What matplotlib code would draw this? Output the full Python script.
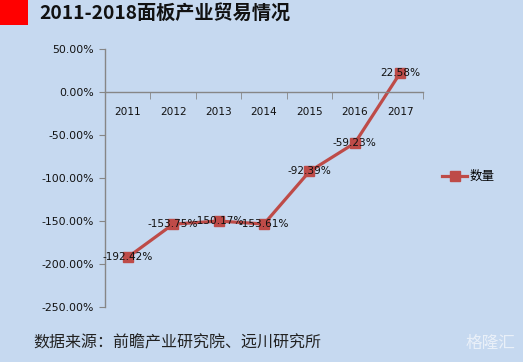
import matplotlib.pyplot as plt
from matplotlib.patches import Rectangle
from matplotlib.ticker import FixedLocator, FuncFormatter

plt.rcParams['font.family'] = ['Noto Sans CJK SC', 'DejaVu Sans']

# data
years = ['2011', '2012', '2013', '2014', '2015', '2016', '2017']
values = [-192.42, -153.75, -150.17, -153.61, -92.39, -59.23, 22.58]
y_ticks = [50, 0, -50, -100, -150, -200, -250]

bg = '#C6D9F0'
line_col = '#BE4B48'
axis_col = '#868686'

W, H = 523, 362
fig = plt.figure(figsize=(W / 100, H / 100), dpi=100, facecolor=bg)

# title block
fig.patches.append(Rectangle((0, 1 - 25 / H), 28 / W, 25 / H, transform=fig.transFigure,
                             facecolor='#FF0000', edgecolor='none'))
fig.text(39 / W, 1 - 14 / H, '2011-2018面板产业贸易情况', fontsize=13.8, fontweight='bold',
         va='center', ha='left', color='#111111')

ax = fig.add_axes([105 / W, 1 - 306.7 / H, (423 - 105) / W, (306.7 - 49.3) / H])
ax.set_facecolor(bg)
x = list(range(len(years)))
ax.plot(x, values, color=line_col, lw=2.3, marker='s', ms=7, mfc=line_col, mec=line_col,
        label='数量')

for xi, v in zip(x, values):
    ax.text(xi, v, f'{v:.2f}%', fontsize=7.6, ha='center', va='center', color='#111111',
            family=['DejaVu Sans'])

ax.set_xlim(-0.5, len(years) - 0.5)
ax.set_ylim(-250, 50)
ax.set_yticks(y_ticks)
ax.yaxis.set_major_formatter(FuncFormatter(lambda v, p: f'{v:.2f}%'))

ax.spines['top'].set_visible(False)
ax.spines['right'].set_visible(False)
ax.spines['bottom'].set_position(('data', 0))
for s in ('left', 'bottom'):
    ax.spines[s].set_color(axis_col)
    ax.spines[s].set_linewidth(1)

ax.set_xticks(x)
ax.set_xticklabels(years)
ax.xaxis.set_minor_locator(FixedLocator([i + 0.5 for i in x]))
ax.tick_params(axis='x', which='major', length=0, pad=11, labelsize=7.6, labelcolor='#111111')
ax.tick_params(axis='x', which='minor', length=5, direction='out', color=axis_col)
ax.tick_params(axis='y', length=4, color=axis_col, labelsize=7.8, labelcolor='#111111', pad=4)
for lab in ax.get_xticklabels() + ax.get_yticklabels():
    lab.set_family('DejaVu Sans')

leg = ax.legend(loc='center left', bbox_to_anchor=(1.025, 0.505), frameon=False, fontsize=9,
                handlelength=2.0, handletextpad=0.15)

fig.text(33 / W, 1 - 343 / H, '数据来源：前瞻产业研究院、远川研究所', fontsize=11.5,
         va='center', ha='left', color='#222222')
fig.text(515 / W, 1 - 343 / H, '格隆汇', fontsize=12, va='center', ha='right', color='#EEF3FA',
         alpha=0.9)

fig.savefig('out.png', dpi=100, facecolor=bg)
